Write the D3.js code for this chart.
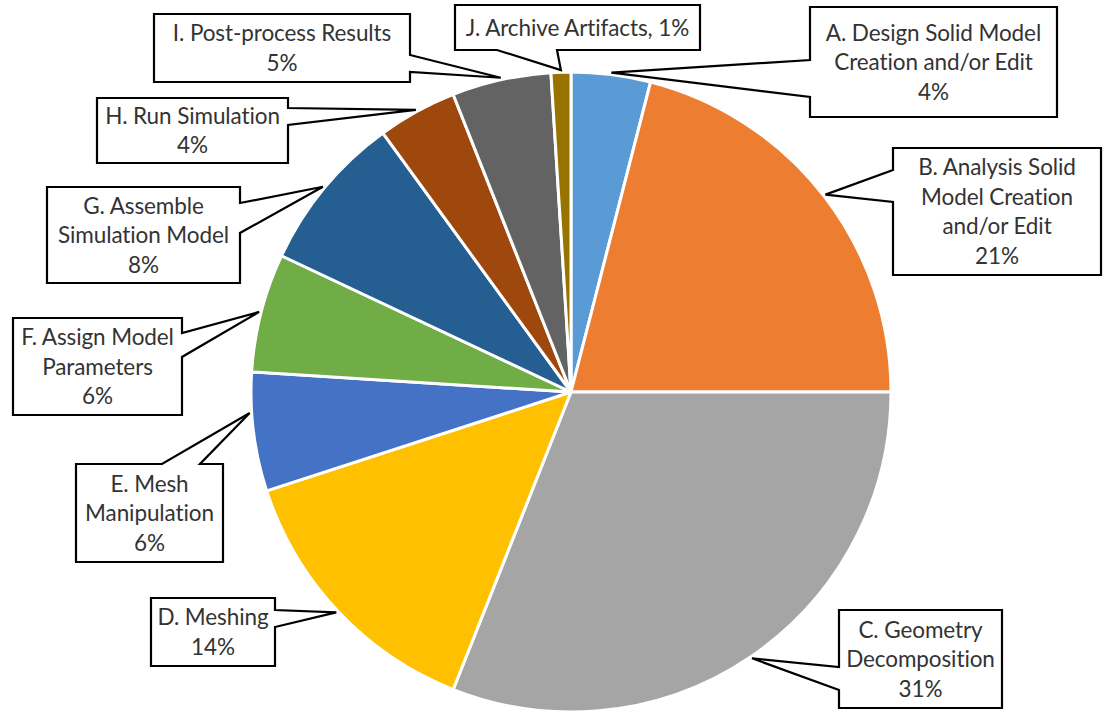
<!DOCTYPE html>
<html><head><meta charset="utf-8">
<script src="https://cdn.jsdelivr.net/npm/d3@7"></script>
<style>html,body{margin:0;padding:0;background:#fff;overflow:hidden}</style>
</head><body>
<svg id="chart" width="1105" height="711"></svg>
<script>
// ---- data ----
const categories = ["A. Design Solid Model Creation and/or Edit","B. Analysis Solid Model Creation and/or Edit","C. Geometry Decomposition","D. Meshing","E. Mesh Manipulation","F. Assign Model Parameters","G. Assemble Simulation Model","H. Run Simulation","I. Post-process Results","J. Archive Artifacts"];
const values = [4, 21, 31, 14, 6, 6, 8, 4, 5, 1];
const labelLines = [
  ["A. Design Solid Model","Creation and/or Edit"],
  ["B. Analysis Solid","Model Creation","and/or Edit"],
  ["C. Geometry","Decomposition"],
  ["D. Meshing"],
  ["E. Mesh","Manipulation"],
  ["F. Assign Model","Parameters"],
  ["G. Assemble","Simulation Model"],
  ["H. Run Simulation"],
  ["I. Post-process Results"],
  ["J. Archive Artifacts,"]
];
const inlinePct = [false,false,false,false,false,false,false,false,false,true];
const colors = ["#5B9BD5","#ED7D31","#A5A5A5","#FFC000","#4472C4","#70AD47","#255E91","#9E480E","#636363","#997300"];

// ---- layout (callout boxes) ----
const boxes = [
  {x:810,y:7,w:247,h:110,side:"left",b1:60,b2:97},
  {x:893,y:148,w:208,h:127,side:"left",b1:170,b2:202},
  {x:839,y:610,w:163,h:98,side:"left",b1:667,b2:690},
  {x:151,y:598,w:124,h:68,side:"right",b1:610,b2:627},
  {x:76,y:464,w:147,h:98,side:"top",b1:162,b2:200},
  {x:13,y:318,w:169,h:97,side:"right",b1:333,b2:357},
  {x:47,y:187,w:193,h:96,side:"right",b1:203,b2:233},
  {x:97,y:98,w:191,h:65,side:"right",b1:108,b2:125},
  {x:154,y:14,w:256,h:68,side:"right",b1:55,b2:72},
  {x:455,y:5,w:245,h:45,side:"bottom",b1:497,b2:557}
];
const tipFrac = [0.5,0.5,0.5,0.5,0.66,0.5,0.5,0.5,0.5,0.5];
const cx = 571, cy = 392, R = 320;

const svg = d3.select("#chart");
const g = svg.append("g").attr("transform",`translate(${cx},${cy})`);
const pie = d3.pie().sort(null).value(d=>d)(values);
const arc = d3.arc().innerRadius(0).outerRadius(R);

g.selectAll("path.slice").data(pie).join("path")
  .attr("class","slice")
  .attr("d",arc)
  .attr("fill",(d,i)=>colors[i])
  .attr("stroke","#fff").attr("stroke-width",3).attr("stroke-linejoin","round");

function calloutPath(b, tx, ty){
  const {x,y,w,h,side,b1,b2} = b;
  const p = [];
  p.push([x,y]);
  if(side==="top"){ p.push([b1,y],[tx,ty],[b2,y]); }
  p.push([x+w,y]);
  if(side==="right"){ p.push([x+w,b1],[tx,ty],[x+w,b2]); }
  p.push([x+w,y+h]);
  if(side==="bottom"){ p.push([b2,y+h],[tx,ty],[b1,y+h]); }
  p.push([x,y+h]);
  if(side==="left"){ p.push([x,b2],[tx,ty],[x,b1]); }
  return "M"+p.map(q=>q.join(",")).join("L")+"Z";
}

const lg = svg.append("g");
pie.forEach((d,i)=>{
  const a = d.startAngle + (d.endAngle-d.startAngle)*tipFrac[i];
  const tx = cx + (R+2)*Math.sin(a), ty = cy - (R+2)*Math.cos(a);
  const b = boxes[i];
  lg.append("path").attr("d",calloutPath(b,tx,ty))
    .attr("fill","#fff").attr("stroke","#000").attr("stroke-width",2.2).attr("stroke-linejoin","miter");
  const lines = labelLines[i].slice();
  const pct = values[i]+"%";
  if(inlinePct[i]) lines[lines.length-1] += " "+pct; else lines.push(pct);
  const lh = 29.5;
  const y0 = b.y + b.h/2 - (lines.length-1)*lh/2;
  const t = lg.append("text").attr("text-anchor","middle")
    .attr("font-family","Lato, 'Open Sans', sans-serif").attr("font-size",22.5).attr("fill","#333")
    .attr("letter-spacing",-0.1);
  lines.forEach((ln,k)=>{
    t.append("tspan").attr("x",b.x+b.w/2).attr("y",y0+k*lh).attr("dy","0.36em").text(ln);
  });
});
</script>
</body></html>
